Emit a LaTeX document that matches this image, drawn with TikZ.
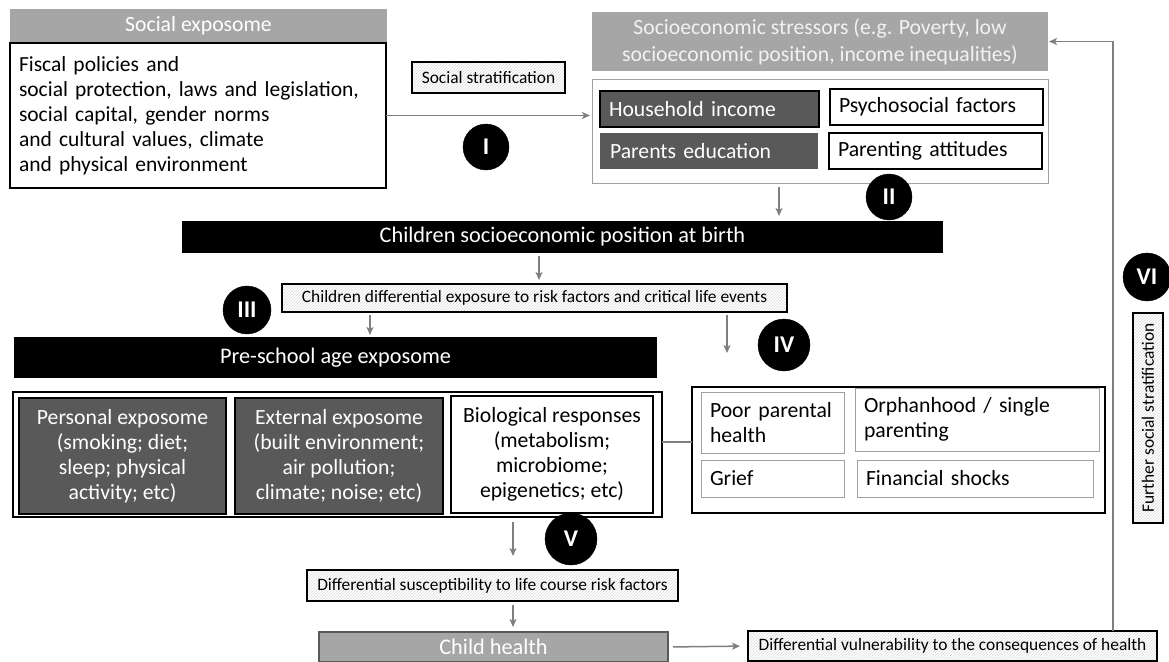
\documentclass[tikz,border=0pt]{standalone}
\usepackage{fontspec}
\setmainfont{Carlito}
\usetikzlibrary{patterns,arrows.meta,calc}
\definecolor{hdr}{HTML}{A6A6A6}
\definecolor{dk}{HTML}{595959}
\definecolor{ar}{HTML}{7F7F7F}
\definecolor{lt}{HTML}{A0A0A0}
\newcommand\fsz[2]{\fontsize{#1}{#2}\selectfont}
\tikzset{
  bx/.style={anchor=north west, inner ysep=0pt, inner xsep=9pt, outer sep=0pt, line width=1.3pt},
  big/.style={font=\fsz{21.7}{25}},
  hdrbox/.style={bx, fill=hdr, draw=none, text=white, big, align=center},
  blackbar/.style={bx, fill=black, draw=black, text=white, font=\fsz{22.3}{25}},
  darkbox/.style={bx, fill=dk, draw=black, text=white, big, align=center},
  whitebox/.style={bx, fill=white, draw=black, big},
  thinbox/.style={bx, fill=white, draw=lt, line width=1pt, big},
  hatch/.style={bx, draw=black, line width=1.1pt, pattern=north east lines, pattern color=gray!28, font=\fsz{17.4}{20}, inner xsep=4pt},
  circ/.style={circle, fill=black, draw=black, text=white, font=\fsz{24}{24}\bfseries, minimum size=48pt, inner sep=0pt},
  arr/.style={draw=ar, line width=1.5pt, -{Stealth[length=8pt,width=7pt,inset=2pt]}},
  ln/.style={draw=ar, line width=1.5pt}
}
\begin{document}
\begin{tikzpicture}[x=1pt,y=-1pt]
\useasboundingbox (0,0) rectangle (1169,661);
% --- top left
\node[hdrbox, minimum width=377pt, minimum height=33pt] (sochdr) at (10,9) {Social exposome};
\node[whitebox, minimum width=376pt, minimum height=145pt, text width=358pt, align=left, font=\fsz{21.5}{25}] (fiscal) at (10,43)
  {Fiscal policies and\\social protection, laws and legislation,\\social capital, gender norms\\and cultural values, climate\\and physical environment};
\node[hatch, minimum width=153pt, minimum height=31pt] (strat) at (412,62) {Social stratification};
\node[circ, minimum size=46pt] (c1) at (486,147) {I};
% --- top right
\node[hdrbox, minimum width=456pt, minimum height=59pt, text=white!95!black, font=\fsz{21.7}{27}] (sechdr) at (592,12)
  {Socioeconomic stressors (e.g. Poverty, low\\socioeconomic position, income inequalities)};
\node[bx, draw=lt, line width=1pt, minimum width=456pt, minimum height=104pt] (seccont) at (592,79) {};
\node[darkbox, minimum width=219pt, minimum height=36pt, text width=201pt, align=left] (hhinc) at (600,91) {Household income};
\node[darkbox, draw=dk, minimum width=216pt, minimum height=34pt, text width=198pt, align=left] (paredu) at (601,134) {Parents education};
\node[whitebox, minimum width=213pt, minimum height=36pt, text width=195pt, align=left] (psych) at (830,89) {Psychosocial factors};
\node[whitebox, minimum width=213pt, minimum height=36pt, text width=195pt, align=left] (parat) at (829,133) {Parenting attitudes};
\node[circ, minimum size=46pt] (c2) at (889,197) {II};
% --- SEP
\node[blackbar, minimum width=759pt, minimum height=30pt] (sep) at (183,222) {Children socioeconomic position at birth};
\node[hatch, minimum width=505pt, minimum height=28pt] (diffexp) at (282,284) {Children differential exposure to risk factors and critical life events};
\node[circ] (c3) at (247,310) {III};
\node[circ, minimum size=52pt] (c4) at (784,345) {IV};
% --- pre-school
\node[blackbar, minimum width=641pt, minimum height=39pt] (presch) at (15,338) {Pre-school age exposome};
\node[bx, draw=black, line width=1.5pt, minimum width=649pt, minimum height=125pt] (precont) at (13,392) {};
\node[darkbox, minimum width=207pt, minimum height=116pt] (pers) at (19,398) {Personal exposome\\(smoking; diet;\\sleep; physical\\activity; etc)};
\node[darkbox, minimum width=208pt, minimum height=116pt] (ext) at (235,398) {External exposome\\(built environment;\\air pollution;\\climate; noise; etc)};
\node[whitebox, minimum width=202pt, minimum height=117pt, align=center] (bio) at (451,396) {Biological responses\\(metabolism;\\microbiome;\\epigenetics; etc)};
% --- right box
\node[bx, draw=black, line width=1.5pt, minimum width=413pt, minimum height=126pt] (rbox) at (692,387) {};
\node[thinbox, minimum width=143pt, minimum height=61pt, text width=125pt, align=left] (poor) at (701,392) {Poor parental\\health};
\node[thinbox, minimum width=244pt, minimum height=63pt, text width=226pt, align=left] (orph) at (855,388) {Orphanhood / single\\parenting};
\node[thinbox, minimum width=143pt, minimum height=37pt, text width=125pt, align=left] (grief) at (701,460) {Grief};
\node[thinbox, minimum width=236pt, minimum height=37pt, text width=218pt, align=left] (fin) at (857,460) {Financial shocks};
% --- bottom
\node[circ, minimum size=52pt] (c5) at (571,539) {V};
\node[hatch, minimum width=371pt, minimum height=31pt] (diffsus) at (307,570) {Differential susceptibility to life course risk factors};
\node[bx, fill=hdr, draw=dk, line width=1.3pt, text=white, font=\fsz{22.3}{25}, minimum width=349pt, minimum height=30pt] (child) at (319,632) {Child health};
\node[hatch, minimum width=409pt, minimum height=30pt] (diffvul) at (748,631) {Differential vulnerability to the consequences of health};
\node[circ] (c6) at (1147,277) {VI};
\node[hatch, minimum width=30pt, minimum height=210pt] (further) at (1133,313) {};
\node[rotate=90, font=\fsz{17.4}{20}] (furthertxt) at (further.center) {Further social stratification};
% --- connectors
\coordinate (xa) at (779,0);
\coordinate (xb) at (539,0);
\coordinate (xc) at (370,0);
\coordinate (xd) at (727,0);
\coordinate (xe) at (513,0);
\coordinate (xf) at (1113,0);
\coordinate (yl) at (0,442);
\coordinate (ivend) at (727,353);
\draw[arr, shorten >=2pt] (fiscal.east) -- (fiscal.east -| seccont.west);
\draw[arr, shorten <=4pt, shorten >=6pt] (seccont.south -| xa) -- (sep.north -| xa);
\draw[arr, shorten <=4pt, shorten >=4pt] (sep.south -| xb) -- (diffexp.north -| xb);
\draw[arr, shorten <=3pt, shorten >=3pt] (diffexp.south -| xc) -- (presch.north -| xc);
\draw[arr, shorten <=3pt] (diffexp.south -| xd) -- (ivend);
\draw[ln] (yl -| precont.east) -- (yl -| rbox.west);
\draw[arr, shorten <=5pt, shorten >=14pt] (precont.south -| xe) -- (diffsus.north -| xe);
\draw[arr, shorten <=4pt, shorten >=5pt] (diffsus.south -| xe) -- (child.north -| xe);
\draw[arr, shorten <=5pt, shorten >=8pt] (child.east) -- (diffvul.west);
\draw[arr, shorten >=1pt] (diffvul.north -| xf) |- (sechdr.east);
\end{tikzpicture}
\end{document}
